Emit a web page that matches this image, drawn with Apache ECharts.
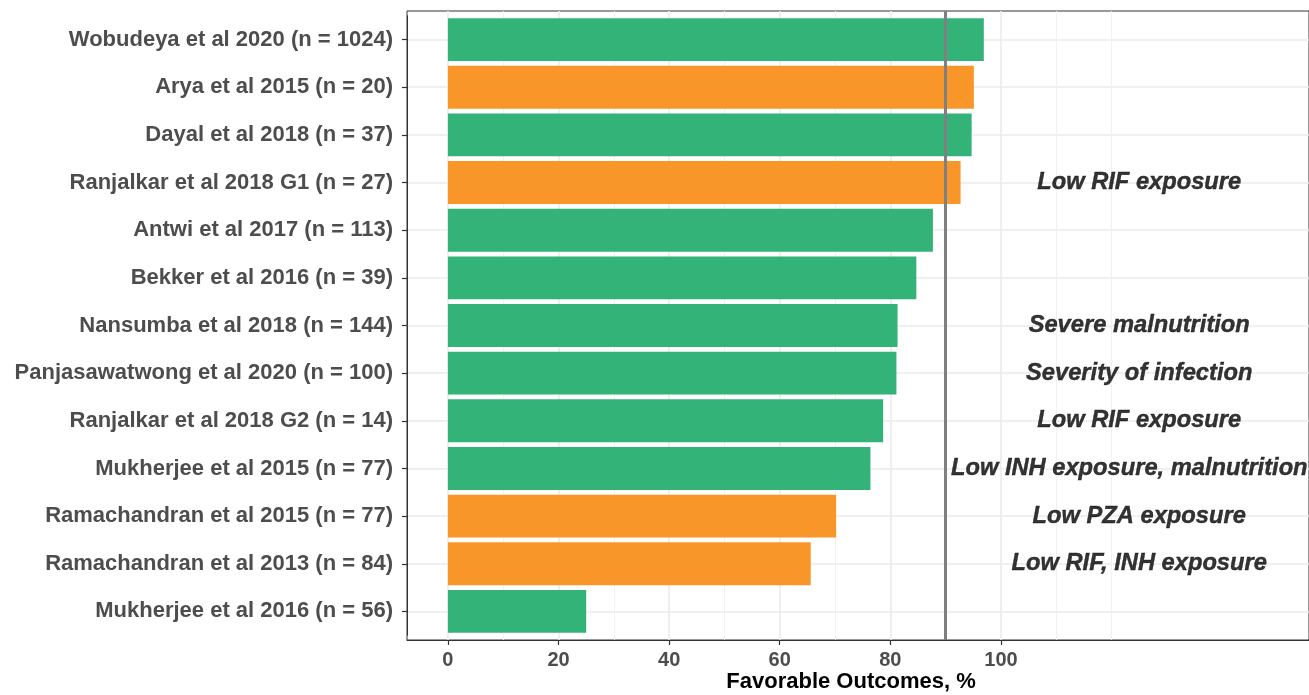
<!DOCTYPE html>
<html>
<head>
<meta charset="utf-8">
<title>Favorable Outcomes by Study</title>
<script src="https://cdn.jsdelivr.net/npm/echarts@6/dist/echarts.min.js"></script>
<style>
  html, body { margin: 0; padding: 0; background: #ffffff; }
  #chart { width: 1309px; height: 695px; }
</style>
</head>
<body>
<div id="chart"></div>
<script>
// Studies listed top to bottom
const studies = [
  'Wobudeya et al 2020 (n = 1024)',
  'Arya et al 2015 (n = 20)',
  'Dayal et al 2018 (n = 37)',
  'Ranjalkar et al 2018 G1 (n = 27)',
  'Antwi et al 2017 (n = 113)',
  'Bekker et al 2016 (n = 39)',
  'Nansumba et al 2018 (n = 144)',
  'Panjasawatwong et al 2020 (n = 100)',
  'Ranjalkar et al 2018 G2 (n = 14)',
  'Mukherjee et al 2015 (n = 77)',
  'Ramachandran et al 2015 (n = 77)',
  'Ramachandran et al 2013 (n = 84)',
  'Mukherjee et al 2016 (n = 56)'
];

// Percentage of favorable outcomes per study
const favorable = [96.9, 95.1, 94.7, 92.7, 87.7, 84.7, 81.3, 81.1, 78.7, 76.4, 70.2, 65.6, 25.0];

// 0 = green group, 1 = orange group
const cohortGroup = [0, 1, 0, 1, 0, 0, 0, 0, 0, 0, 1, 1, 0];

// Risk factors noted beside each study
const annotationText = [
  '', '', '', 'Low RIF exposure', '', '',
  'Severe malnutrition', 'Severity of infection', 'Low RIF exposure',
  'Low INH exposure, malnutrition', 'Low PZA exposure', 'Low RIF, INH exposure', ''
];
const annotationX = [125, 125, 125, 125, 125, 125, 125, 125, 125, 123.2, 125, 125, 125];

// Reference threshold (%)
const targetThreshold = 90;

// Axis breaks
const xTicks = [0, 20, 40, 60, 80, 100];
const xMinorBreaks = [10, 30, 50, 70, 90, 110, 120];
const xMin = -7.4;
const xMax = 155.7;

const palette = ['#33b377', '#f8962a'];
const FONT = '"Liberation Sans", Arial, Helvetica, sans-serif';
const INK = '#333333';

// Panel geometry: categories padded by 0.6 bands on each side
const panelTop = 11;
const panelHeight = 629;
const band = panelHeight / (studies.length + 0.2);

const chart = echarts.init(document.getElementById('chart'), null, { renderer: 'canvas' });

const annotationData = [];
annotationText.forEach((t, i) => {
  if (t) annotationData.push({ value: [annotationX[i], studies[i]], text: t });
});

const option = {
  animation: false,
  backgroundColor: '#ffffff',
  textStyle: { fontFamily: FONT },
  grid: [
    { // frame panel
      left: 407, right: 0, top: panelTop, height: panelHeight,
      show: true, borderColor: INK, borderWidth: 1, backgroundColor: '#ffffff'
    },
    { // bar area
      left: 407, right: 0, top: panelTop + band * 0.1, height: band * studies.length
    }
  ],
  xAxis: [
    {
      gridIndex: 0, type: 'value', min: xMin, max: xMax, position: 'bottom',
      axisLine: { show: true, onZero: false, lineStyle: { color: INK, width: 1 } },
      axisTick: { show: true, length: 5, customValues: xTicks, lineStyle: { color: INK, width: 1.2 } },
      axisLabel: {
        customValues: xTicks, fontSize: 20, fontWeight: 'bold', color: '#4d4d4d',
        margin: 10, fontFamily: FONT
      },
      splitLine: { show: true, lineStyle: { color: '#ebebeb', width: 1.6 } }
    },
    {
      gridIndex: 0, type: 'value', min: xMin, max: xMax, position: 'bottom',
      axisLine: { show: false, onZero: false },
      axisTick: { show: false, customValues: xMinorBreaks },
      axisLabel: { show: false, customValues: xMinorBreaks },
      splitLine: { show: true, lineStyle: { color: '#efefef', width: 0.9 } }
    },
    {
      gridIndex: 1, type: 'value', min: xMin, max: xMax, show: false,
      axisLine: { onZero: false },
      splitLine: { show: false }
    }
  ],
  yAxis: [
    {
      gridIndex: 0, type: 'value', min: 0, max: 1, show: false,
      axisLine: { onZero: false }, splitLine: { show: false }
    },
    {
      gridIndex: 1, type: 'category', data: studies, inverse: true, position: 'left',
      axisLine: { show: true, onZero: false, lineStyle: { color: INK, width: 1 } },
      axisTick: { show: true, alignWithLabel: true, length: 5, lineStyle: { color: INK, width: 1.2 } },
      axisLabel: { fontSize: 22, fontWeight: 'bold', color: '#4d4d4d', margin: 14, fontFamily: FONT },
      splitLine: { show: true, alignWithLabel: true, lineStyle: { color: '#ebebeb', width: 1.6 } }
    }
  ],
  series: [
    {
      type: 'bar', xAxisIndex: 2, yAxisIndex: 1, barWidth: '90%', z: 2, silent: true,
      data: favorable.map((v, i) => ({ value: v, itemStyle: { color: palette[cohortGroup[i]] } }))
    },
    {
      type: 'scatter', xAxisIndex: 2, yAxisIndex: 1, symbolSize: 0, z: 4, silent: true,
      data: annotationData,
      label: {
        show: true, position: 'inside',
        formatter: p => p.data.text,
        fontSize: 23.7, fontStyle: 'italic', fontWeight: 'bold', color: '#000000',
        textBorderColor: '#000000', textBorderWidth: 0.4, fontFamily: FONT
      }
    },
    {
      type: 'line', xAxisIndex: 0, yAxisIndex: 0, data: [], silent: true,
      markLine: {
        z: 10, silent: true, symbol: 'none', animation: false,
        label: { show: false },
        lineStyle: { color: '#808080', width: 3, type: 'solid' },
        data: [{ xAxis: targetThreshold }]
      }
    }
  ],
  graphic: [
    {
      type: 'text', x: 851, y: 682,
      style: {
        text: 'Favorable Outcomes, %', fill: '#000000',
        font: 'bold 22px ' + FONT, align: 'center', verticalAlign: 'middle'
      }
    }
  ]
};

chart.setOption(option);
</script>
</body>
</html>
